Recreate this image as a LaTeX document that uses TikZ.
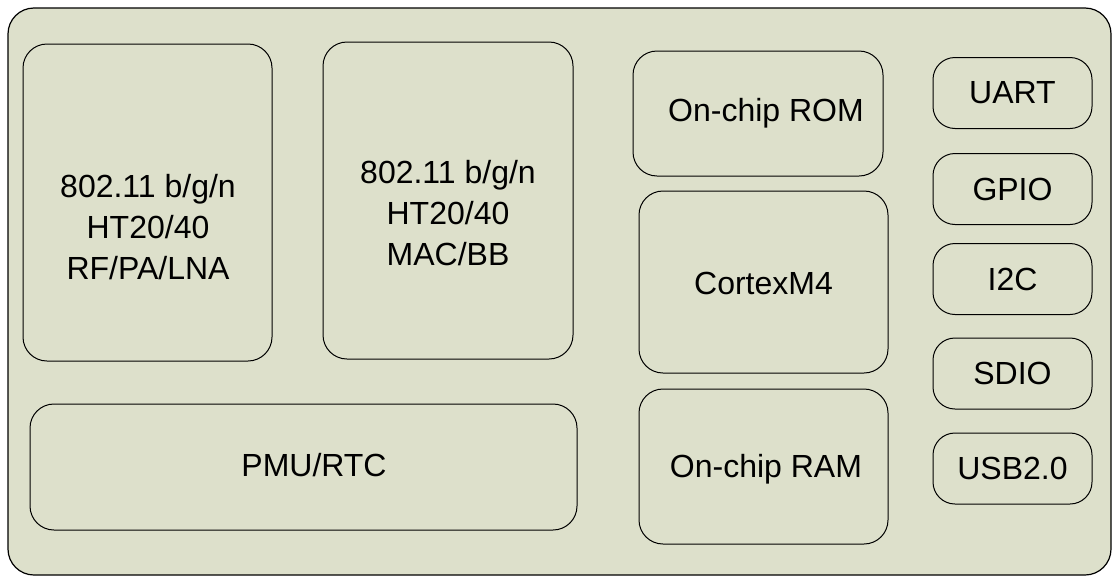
\documentclass[tikz,border=0pt]{standalone}
\usepackage{fontspec}
\setmainfont{Liberation Sans}
\usepackage{xcolor}
\usetikzlibrary{positioning}
\definecolor{chipbg}{RGB}{221,224,203}

\begin{document}
\begin{tikzpicture}[
    x=1pt, y=-1pt,
    blk/.style={draw, rounded corners=24pt, line width=1pt, fill=chipbg,
                inner sep=0pt},
    io/.style={blk, rounded corners=22pt, minimum width=159pt,
               minimum height=71pt, font=\fontsize{32}{41}\selectfont},
    txt/.style={align=center, inner sep=0pt,
                font=\fontsize{32}{41}\selectfont},
]
  \useasboundingbox (0,0) rectangle (1113,576);
  \node[blk, rounded corners=26pt, line width=1.2pt, minimum width=1103pt,
        minimum height=567pt] (chip) at (559.5,291.5) {};

  % radio and baseband
  \node[blk, minimum width=249pt, minimum height=317pt] (rf) at (147.5,202.5) {};
  \node[txt] (rftxt) at (148,227) {802.11 b/g/n\\HT20/40\\RF/PA/LNA};
  \node[blk, minimum width=250pt, minimum height=317pt] (mac) at (448,200.5) {};
  \node[txt] (mactxt) at (448,213) {802.11 b/g/n\\HT20/40\\MAC/BB};
  \node[blk, minimum width=547pt, minimum height=126pt] (pmu) at (303.5,467) {};
  \node[txt] (pmutxt) at (314,465) {PMU/RTC};

  % core and memories
  \node[blk, minimum width=250pt, minimum height=125pt] (rom) at (758,113.5) {};
  \node[txt] (romtxt) at (766,113.5) {On-chip ROM};
  \node[blk, minimum width=249pt, minimum height=182pt] (cpu) at (763.5,282) {};
  \node[txt] (cputxt) at (763.5,283) {CortexM4};
  \node[blk, minimum width=249pt, minimum height=155pt] (ram) at (763.5,466.5) {};
  \node[txt] (ramtxt) at (766,469) {On-chip RAM};

  % peripherals
  \node[io] (uart) at (1012.5,93) {UART};
  \node[io] (gpio) at (1012.5,189) {GPIO};
  \node[io] (iic) at (1012.5,279) {I2C};
  \node[io] (sdio) at (1012.5,373.5) {SDIO};
  \node[io] (usb) at (1012.5,468.5) {USB2.0};
\end{tikzpicture}
\end{document}
